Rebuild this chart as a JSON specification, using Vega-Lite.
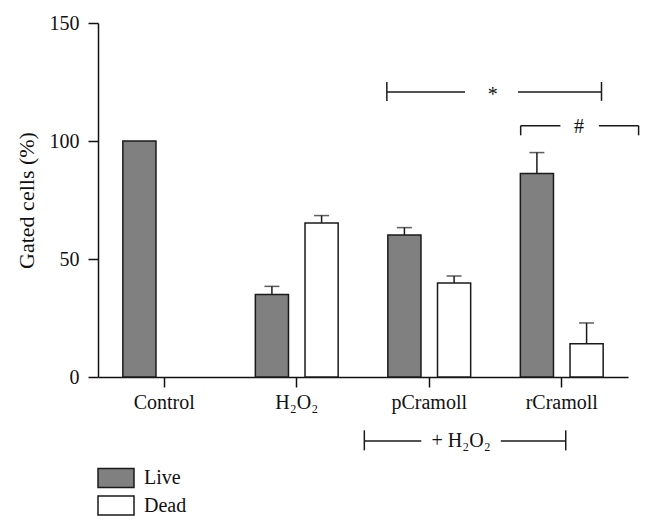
{
  "$schema": "https://vega.github.io/schema/vega-lite/v6.json",
  "autosize": "none",
  "width": 530,
  "height": 354,
  "padding": {"left": 98, "top": 23, "right": 25, "bottom": 151},
  "background": "white",
  "config": {
    "font": "Liberation Serif",
    "view": {"stroke": null},
    "axis": {"labelFont": "Liberation Serif", "titleFont": "Liberation Serif", "labelColor": "#111", "titleColor": "#111", "domainColor": "#111", "tickColor": "#111", "domainWidth": 1.5, "tickWidth": 1.5, "tickSize": 10, "labelFontSize": 20, "titleFontSize": 22, "titleFontWeight": "normal", "grid": false},
    "legend": {"labelFont": "Liberation Serif", "labelFontSize": 20, "labelColor": "#111"}
  },
  "datasets": {
    "bars": [
      {"group": "Control", "status": "Live", "value": 100, "upper": null},
      {"group": "H₂O₂", "status": "Live", "value": 35.0, "upper": 38.4},
      {"group": "H₂O₂", "status": "Dead", "value": 65.3, "upper": 68.4},
      {"group": "pCramoll", "status": "Live", "value": 60.2, "upper": 63.3},
      {"group": "pCramoll", "status": "Dead", "value": 39.8, "upper": 42.8},
      {"group": "rCramoll", "status": "Live", "value": 86.2, "upper": 95.1},
      {"group": "rCramoll", "status": "Dead", "value": 14.1, "upper": 22.9}
    ],
    "segments": [
      {"x": 2.18, "x2": 2.77, "y": 120.8, "y2": 120.8},
      {"x": 3.17, "x2": 3.80, "y": 120.8, "y2": 120.8},
      {"x": 2.18, "x2": 2.18, "y": 117, "y2": 125},
      {"x": 3.80, "x2": 3.80, "y": 117, "y2": 125},
      {"x": 3.19, "x2": 3.49, "y": 106.5, "y2": 106.5},
      {"x": 3.78, "x2": 4.08, "y": 106.5, "y2": 106.5},
      {"x": 3.19, "x2": 3.19, "y": 102.4, "y2": 106.5},
      {"x": 4.08, "x2": 4.08, "y": 102.4, "y2": 106.5},
      {"x": 2.01, "x2": 2.44, "y": -27.1, "y2": -27.1},
      {"x": 3.04, "x2": 3.53, "y": -27.1, "y2": -27.1},
      {"x": 2.01, "x2": 2.01, "y": -22.6, "y2": -31.1},
      {"x": 3.53, "x2": 3.53, "y": -22.6, "y2": -31.1}
    ],
    "labels": [
      {"x": 2.98, "y": 119.5, "text": "*"},
      {"x": 3.63, "y": 106.0, "text": "#"},
      {"x": 2.74, "y": -27.1, "text": "+ H₂O₂"}
    ]
  },
  "layer": [
    {
      "data": {"name": "bars"},
      "layer": [
        {
          "mark": {"type": "bar", "stroke": "#1a1a1a", "strokeWidth": 1.5},
          "encoding": {
            "x": {"field": "group", "type": "nominal", "sort": null, "scale": {"paddingInner": 0, "paddingOuter": 0}, "axis": {"title": null, "labelAngle": 0, "labelPadding": 5}},
            "xOffset": {"field": "status", "type": "nominal", "sort": ["Live", "Dead"], "scale": {"domain": ["Live", "Dead"], "paddingInner": 0.333, "paddingOuter": 0.5}},
            "y": {"field": "value", "type": "quantitative", "scale": {"domain": [0, 150]}, "axis": {"title": "Gated cells (%)", "values": [0, 50, 100, 150], "labelPadding": 9, "titlePadding": 11}},
            "fill": {"field": "status", "type": "nominal", "sort": ["Live", "Dead"], "scale": {"domain": ["Live", "Dead"], "range": ["#808080", "#ffffff"]},
              "legend": {"title": null, "orient": "none", "legendX": 8, "legendY": 445, "symbolType": "M-4,-2.12H4V2.12H-4Z", "symbolSize": 81, "symbolStrokeColor": "#1a1a1a", "symbolStrokeWidth": 1.5, "symbolOpacity": 1, "labelOffset": 18, "rowPadding": 1.5}}
          }
        },
        {
          "transform": [{"filter": "datum.upper != null"}],
          "mark": {"type": "rule", "color": "#1a1a1a", "strokeWidth": 1.5},
          "encoding": {
            "x": {"field": "group", "type": "nominal", "sort": null},
            "xOffset": {"field": "status", "type": "nominal", "sort": ["Live", "Dead"]},
            "y": {"field": "value", "type": "quantitative", "scale": {"domain": [0, 150]}},
            "y2": {"field": "upper"}
          }
        },
        {
          "transform": [{"filter": "datum.upper != null"}],
          "mark": {"type": "tick", "color": "#1a1a1a", "thickness": 1.5, "size": 15},
          "encoding": {
            "x": {"field": "group", "type": "nominal", "sort": null},
            "xOffset": {"field": "status", "type": "nominal", "sort": ["Live", "Dead"]},
            "y": {"field": "upper", "type": "quantitative", "scale": {"domain": [0, 150]}}
          }
        }
      ]
    },
    {
      "layer": [
        {
          "data": {"name": "segments"},
          "mark": {"type": "rule", "color": "#1a1a1a", "strokeWidth": 1.5},
          "encoding": {
            "x": {"field": "x", "type": "quantitative", "scale": {"domain": [0, 4], "nice": false, "zero": false}, "axis": null},
            "x2": {"field": "x2"},
            "y": {"field": "y", "type": "quantitative", "scale": {"domain": [0, 150]}},
            "y2": {"field": "y2"}
          }
        },
        {
          "data": {"name": "labels"},
          "mark": {"type": "text", "fontSize": 20, "color": "#111", "baseline": "middle", "align": "center"},
          "encoding": {
            "x": {"field": "x", "type": "quantitative"},
            "y": {"field": "y", "type": "quantitative", "scale": {"domain": [0, 150]}},
            "text": {"field": "text"}
          }
        }
      ]
    }
  ],
  "resolve": {"scale": {"x": "independent"}}
}
